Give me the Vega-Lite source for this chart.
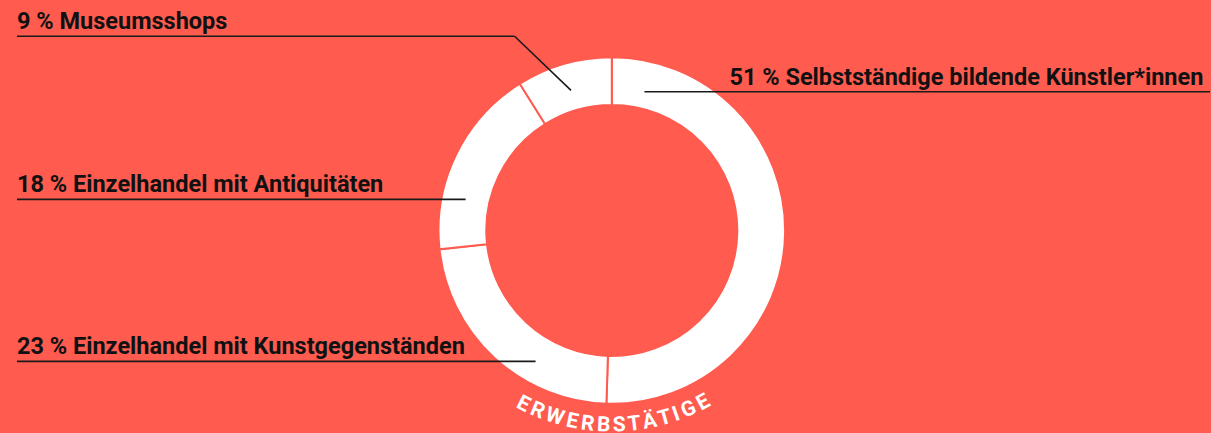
{
  "$schema": "https://vega.github.io/schema/vega-lite/v6.json",
  "width": 1211,
  "height": 433,
  "autosize": {"type": "fit", "contains": "padding"},
  "padding": 0,
  "background": "#FF5B4F",
  "config": {"view": {"stroke": null}, "font": "Roboto"},
  "datasets": {
    "anteile": [
      {"kategorie": "Selbstständige bildende Künstler*innen", "anteil": 51},
      {"kategorie": "Einzelhandel mit Kunstgegenständen", "anteil": 23},
      {"kategorie": "Einzelhandel mit Antiquitäten", "anteil": 18},
      {"kategorie": "Museumsshops", "anteil": 9}
    ],
    "beschriftung": [
      {"label": "9 % Museumsshops", "x": 17, "y": 29},
      {"label": "51 % Selbstständige bildende Künstler*innen", "x": 730, "y": 86},
      {"label": "18 % Einzelhandel mit Antiquitäten", "x": 17, "y": 195},
      {"label": "23 % Einzelhandel mit Kunstgegenständen", "x": 17, "y": 359.5}
    ],
    "linien": [
      {"x1": 17, "y1": 36.8, "x2": 515, "y2": 36.8},
      {"x1": 515, "y1": 36.8, "x2": 571.5, "y2": 91.8},
      {"x1": 645, "y1": 93.3, "x2": 1211, "y2": 93.3},
      {"x1": 17, "y1": 202.7, "x2": 466, "y2": 202.7},
      {"x1": 17, "y1": 367.3, "x2": 536, "y2": 367.3}
    ],
    "bogen": [
      {"buchstabe": "E", "grad": 207},
      {"buchstabe": "R", "grad": 202.4},
      {"buchstabe": "W", "grad": 197.0},
      {"buchstabe": "E", "grad": 191.7},
      {"buchstabe": "R", "grad": 187.1},
      {"buchstabe": "B", "grad": 182.4},
      {"buchstabe": "S", "grad": 177.8},
      {"buchstabe": "T", "grad": 173.4},
      {"buchstabe": "Ä", "grad": 168.8},
      {"buchstabe": "T", "grad": 164.2},
      {"buchstabe": "I", "grad": 160.7},
      {"buchstabe": "G", "grad": 156.8},
      {"buchstabe": "E", "grad": 152.0}
    ]
  },
  "layer": [
    {
      "data": {"name": "anteile"},
      "mark": {"type": "arc", "outerRadius": 173.3, "innerRadius": 125.5, "fill": "white", "stroke": "#FF5B4F", "strokeWidth": 2, "xOffset": 6.8, "yOffset": 17.5},
      "encoding": {
        "theta": {"field": "anteil", "type": "quantitative", "stack": true},
        "order": {"field": "anteil", "sort": "descending"},
        "detail": {"field": "kategorie"}
      }
    },
    {
      "data": {"name": "linien"},
      "mark": {"type": "rule", "color": "#1a1a1a", "strokeWidth": 1.6},
      "encoding": {
        "x": {"field": "x1", "type": "quantitative", "scale": {"domain": [0, 1211], "nice": false, "zero": false}, "axis": null},
        "y": {"field": "y1", "type": "quantitative", "scale": {"domain": [0, 433], "nice": false, "zero": false, "reverse": true}, "axis": null},
        "x2": {"field": "x2"},
        "y2": {"field": "y2"}
      }
    },
    {
      "data": {"name": "beschriftung"},
      "mark": {"type": "text", "align": "left", "baseline": "alphabetic", "fontSize": 23.5, "fontWeight": "bold", "color": "#111111"},
      "encoding": {
        "x": {"field": "x", "type": "quantitative"},
        "y": {"field": "y", "type": "quantitative"},
        "text": {"field": "label"}
      }
    },
    {
      "data": {"name": "bogen"},
      "mark": {"type": "text", "radius": 195, "xOffset": 6.8, "yOffset": 17.5, "fontSize": 21, "fontWeight": "bold", "color": "white", "align": "center", "baseline": "middle"},
      "encoding": {
        "theta": {"field": "grad", "type": "quantitative", "stack": false, "scale": {"domain": [0, 360], "range": [0, 6.283185]}},
        "angle": {"field": "grad", "type": "quantitative", "scale": {"domain": [0, 360], "range": [-180, 180]}},
        "text": {"field": "buchstabe"}
      }
    }
  ],
  "resolve": {"scale": {"theta": "independent"}}
}
